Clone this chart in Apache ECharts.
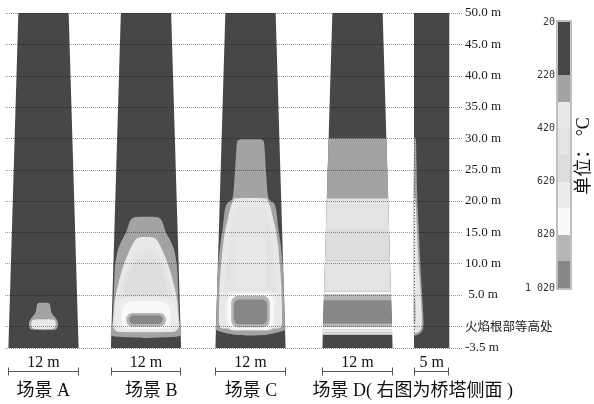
<!DOCTYPE html>
<html>
<head>
<meta charset="utf-8">
<script src="https://cdn.jsdelivr.net/npm/echarts@6/dist/echarts.min.js"></script>
<style>
  html, body { margin: 0; padding: 0; background: #fff; }
  #chart { width: 594px; height: 404px; }
</style>
</head>
<body>
<div id="chart"></div>
<script>
// ---- temperature scale (°C): lower bound of each band and its gray ----
const bandLower = [20, 120, 220, 320, 420, 520, 620, 720, 820, 920];
const bandTop = 1020;
const bandColors = ['#474747', '#474747', '#a3a3a3', '#e8e8e8', '#e3e3e3', '#dddddd', '#ececec', '#f9f9f9', '#b5b5b5', '#878787'];
const scaleTicks = [20, 220, 420, 620, 820, 1020];

// ---- height axis (m) ----
const heightTicks = [50, 45, 40, 35, 30, 25, 20, 15, 10, 5, 0, -3.5];
const heightLabels = ['50.0 m', '45.0 m', '40.0 m', '35.0 m', '30.0 m', '25.0 m', '20.0 m', '15.0 m', '10.0 m', ' 5.0 m', '火焰根部等高处', '-3.5 m'];

// ---- scenes ----
const sceneNames = ['场景 A', '场景 B', '场景 C', '场景 D( 右图为桥塔侧面 )'];
const scaleLengths = [12, 12, 12, 12, 5];

// pylon outline: [height, half width] at foot and head (front view), side view width
const towerFoot = [-3.5, 6.0];
const towerHead = [50, 4.3];
const sideWidth = 5;

// contour bands: [temperature, left half outline from top to bottom as [x m, height m]]
const contoursA = [
  [220, [[-0.85, 3.7], [-1.1, 3.5], [-1.2, 2.8], [-1.4, 2.1], [-1.9, 1.5], [-2.35, 0.9], [-2.5, 0.3], [-2.4, -0.25], [-2.0, -0.6]]],
  [320, [[-1.7, 1.05], [-2.0, 0.8], [-2.1, 0.3], [-1.95, -0.25], [-1.5, -0.45]]]
];
const contoursB = [
  [220, [[-2.0, 17.4], [-2.6, 17.0], [-2.9, 16.4], [-3.4, 15.0], [-4.2, 13.6], [-4.8, 12.2], [-5.3, 9.5], [-5.55, 4.0], [-5.7, 1.0], [-7, -0.3], [-7, -1.5], [-3.0, -1.8], [-0.5, -1.9]]],
  [320, [[-1.0, 14.2], [-1.6, 14.0], [-2.15, 13.3], [-3.0, 11.7], [-3.9, 9.5], [-4.7, 6.9], [-5.3, 4.2], [-5.6, 1.0], [-5.6, -0.2], [-5.2, -0.75], [-4.5, -0.95]]],
  [420, [[-1.4, 11.9], [-2.1, 11.4], [-2.8, 10.0], [-3.5, 8.4], [-4.2, 6.4], [-4.6, 4.5], [-4.6, 3.0]]],
  [520, [[-1.2, 10.7], [-1.9, 10.2], [-2.6, 8.9], [-3.2, 7.3], [-3.7, 5.5], [-3.8, 4.0]]],
  [620, [[-3.4, 4.7], [-4.4, 4.3], [-5.0, 3.2], [-5.2, 1.2], [-5.0, -0.2], [-4.3, -0.65]]],
  [720, [[-2.8, 3.9], [-3.7, 3.5], [-4.1, 2.6], [-4.2, 1.0], [-4.0, -0.1], [-3.4, -0.4]]]
];
const contoursC = [
  [220, [[-1.8, 29.8], [-2.2, 29.6], [-2.35, 29.0], [-2.5, 27], [-2.7, 24], [-2.95, 21], [-3.2, 20.2], [-4.0, 19.6], [-4.4, 18.5], [-4.7, 16.0], [-5.1, 13.5], [-5.5, 10], [-5.75, 5], [-7, 0.5], [-7, -0.6], [-3, -1.35], [-0.5, -1.5]]],
  [320, [[-2.6, 20.4], [-2.95, 20.1], [-3.4, 19.0], [-3.9, 17.0], [-4.2, 15.9], [-4.7, 13], [-5.0, 10], [-5.3, 6], [-5.4, 0.5], [-5.2, -0.2], [-4.8, -0.4]]],
  [420, [[-1.8, 19.0], [-2.4, 18.6], [-3.0, 17.0], [-3.5, 14.5], [-3.9, 11], [-4.3, 7.5], [-4.4, 5.5]]]
];
// rounded cells: [temperature, x0, x1, y0, y1, corner radius]
const cellsB = [[820, -3.4, 3.4, -0.1, 2.1, 1.1], [920, -2.85, 2.85, 0.35, 1.75, 0.7]];
const cellsC = [[320, -2.6, 2.6, 6.0, 14.2, 0.6], [620, -4.4, 4.4, -0.7, 5.6, 1.6], [720, -3.95, 3.95, -0.45, 5.3, 1.4], [820, -3.3, 3.3, -0.2, 4.85, 1.2], [920, -2.85, 2.85, 0.3, 4.25, 0.9]];
// horizontal layers across the whole section: [from m, to m, temperature]
const layersD = [[20.4, 30, 220], [15.5, 20.4, 420], [10.5, 15.5, 520], [5.5, 10.5, 420], [5.0, 5.5, 720], [4.05, 5.0, 820], [0.45, 4.05, 920], [-0.1, 0.45, 820], [-0.6, -0.1, 720], [-1.0, -0.6, 620], [-1.4, -1.0, 420]];
// side view: outline from the flame-side face, [temperature, [[x m, height m] ...]]
const contoursSide = [
  [220, [[0, 30.2], [0.25, 30.0], [0.35, 26], [0.45, 21], [0.65, 16], [0.85, 11], [1.1, 6], [1.3, 2], [1.35, 0], [1.15, -0.8], [0.7, -1.3], [0, -1.45]]],
  [320, [[0, 20.6], [0.2, 20.4], [0.35, 17], [0.5, 13], [0.7, 9], [0.95, 5], [1.1, 1.5], [1.05, -0.3], [0.65, -0.9], [0, -1.1]]],
  [820, [[0, 4.5], [0.2, 4.3], [0.22, 0.6], [0, 0.4]]]
];

// ---- helpers that turn the outlines into polygons ----
function bandColor(t) {
  let i = bandLower.length - 1;
  while (i > 0 && t < bandLower[i]) i--;
  return bandColors[i];
}
function halfWidth(h) {
  return towerFoot[1] + (towerHead[1] - towerFoot[1]) * (h - towerFoot[0]) / (towerHead[0] - towerFoot[0]);
}
function clampToTower(pts) {
  return pts.map(([x, y]) => { const hw = halfWidth(y); return [Math.max(-hw, Math.min(hw, x)), y]; });
}
function mirror(left) {
  return left.concat(left.slice().reverse().map(([x, y]) => [-x, y]));
}
function roundedCell([t, x0, x1, y0, y1, r]) {
  const pts = [];
  const corners = [[x1 - r, y1 - r, 0], [x0 + r, y1 - r, 90], [x0 + r, y0 + r, 180], [x1 - r, y0 + r, 270]];
  corners.forEach(([cx, cy, a0]) => {
    for (let k = 0; k <= 6; k++) {
      const a = (a0 + k * 15) * Math.PI / 180;
      pts.push([cx + r * Math.cos(a), cy + r * Math.sin(a)]);
    }
  });
  return { pts: pts, fill: bandColor(t), smooth: 0 };
}
const frontOutline = [[-towerFoot[1], towerFoot[0]], [towerFoot[1], towerFoot[0]], [towerHead[1], towerHead[0]], [-towerHead[1], towerHead[0]]];
const sideOutline = [[0, towerFoot[0]], [sideWidth, towerFoot[0]], [sideWidth, towerHead[0]], [0, towerHead[0]]];
const baseColor = bandColor(20);

function frontShapes(contours, cells) {
  const list = [{ pts: frontOutline, fill: baseColor, smooth: 0 }];
  contours.forEach(([t, left]) => list.push({ pts: clampToTower(mirror(left)), fill: bandColor(t), smooth: 0.25 }));
  (cells || []).forEach(c => list.push(roundedCell(c)));
  return list;
}
const shapesA = frontShapes(contoursA);
const shapesB = frontShapes(contoursB, cellsB);
const shapesC = frontShapes(contoursC, cellsC);
const shapesD = [{ pts: frontOutline, fill: baseColor, smooth: 0 }].concat(layersD.map(([lo, hi, t]) => ({
  pts: [[-halfWidth(lo), lo], [halfWidth(lo), lo], [halfWidth(hi), hi], [-halfWidth(hi), hi]], fill: bandColor(t), smooth: 0
})));
const shapesSide = [{ pts: sideOutline, fill: baseColor, smooth: 0 }].concat(contoursSide.map(([t, pts]) => ({ pts: pts, fill: bandColor(t), smooth: 0.25 })));

// ---- layout ----
const plotTop = 13, plotBottom = 56;
const pxPerMetre = 5.85;
const frontCentres = [43.5, 146, 250.5, 357.5];
const sideLeft = 414, sideRightPx = 449.3;
const serif = "'Liberation Serif', 'Noto Sans CJK SC', serif";
const cjk = "'Noto Sans CJK SC', sans-serif";

const grids = [{ left: 5, top: plotTop, width: 458, bottom: plotBottom }];
const xAxes = [{ type: 'value', min: 0, max: 1, show: false, gridIndex: 0 }];
const yAxes = [{
  type: 'value', min: -3.5, max: 50, gridIndex: 0, position: 'right', z: 5,
  axisLine: { show: false }, axisTick: { show: false }, splitLine: { show: false },
  axisLabel: {
    customValues: heightTicks, margin: 2, align: 'left',
    fontFamily: serif, fontSize: 13, color: '#1a1a1a',
    formatter: v => { const i = heightTicks.indexOf(v); return i === 10 ? '{c|' + heightLabels[i] + '}' : heightLabels[i]; },
    rich: { c: { fontFamily: cjk, fontSize: 12.5, color: '#1a1a1a' } }
  }
}];
frontCentres.forEach((c, i) => {
  grids.push({ left: c - 7 * pxPerMetre, width: 14 * pxPerMetre, top: plotTop, bottom: plotBottom });
  xAxes.push({ type: 'value', min: -7, max: 7, show: false, gridIndex: i + 1 });
  yAxes.push({ type: 'value', min: -3.5, max: 50, show: false, gridIndex: i + 1 });
});
grids.push({ left: sideLeft, width: sideRightPx - sideLeft, top: plotTop, bottom: plotBottom });
xAxes.push({ type: 'value', min: 0, max: sideWidth, show: false, gridIndex: 5 });
yAxes.push({ type: 'value', min: -3.5, max: 50, show: false, gridIndex: 5 });
// colour bar
grids.push({ left: 558, width: 12, top: 22, height: 266 });
xAxes.push({ type: 'value', min: 0, max: 1, show: false, gridIndex: 6 });
yAxes.push({
  type: 'value', min: 20, max: 1020, inverse: true, gridIndex: 6, position: 'left',
  axisLine: { show: false }, axisTick: { show: false }, splitLine: { show: false },
  axisLabel: {
    customValues: scaleTicks, margin: 3, fontFamily: "'DejaVu Sans Mono', monospace", fontSize: 10, color: '#333',
    formatter: v => String(v).replace(/\B(?=(\d{3})+(?!\d))/g, ' ')
  }
});

function shapeSeries(gi, shapes) {
  return {
    type: 'custom', xAxisIndex: gi, yAxisIndex: gi, z: 2, silent: true,
    data: shapes.map((s, i) => [i]),
    renderItem: (params, api) => {
      const s = shapes[params.dataIndex];
      return { type: 'polygon', shape: { points: s.pts.map(p => api.coord(p)), smooth: s.smooth }, style: { fill: s.fill } };
    }
  };
}

// scale bar + scene caption under each view
const barHeight = -7.17, barTextHeight = -5.9, captionHeight = -10.36;
function annotationSeries(gi, len, x0, caption, captionX) {
  return {
    type: 'custom', xAxisIndex: gi, yAxisIndex: gi, z: 4, silent: true, clip: false,
    data: [[0]],
    renderItem: (params, api) => {
      const a = api.coord([x0, barHeight]);
      const b = api.coord([x0 + len, barHeight]);
      const y = Math.round(a[1]) + 0.5;
      const xa = Math.round(a[0]) + 0.5, xb = Math.round(b[0]) - 0.5;
      const t = api.coord([x0 + len / 2, barTextHeight]);
      const children = [
        { type: 'line', shape: { x1: xa, y1: y, x2: xb, y2: y }, style: { stroke: '#555', lineWidth: 1 } },
        { type: 'line', shape: { x1: xa, y1: y - 4, x2: xa, y2: y + 4 }, style: { stroke: '#555', lineWidth: 1 } },
        { type: 'line', shape: { x1: xb, y1: y - 4, x2: xb, y2: y + 4 }, style: { stroke: '#555', lineWidth: 1 } },
        { type: 'text', x: t[0], y: t[1], style: { text: len + ' m', font: '16px ' + serif, fill: '#111', align: 'center', verticalAlign: 'middle' } }
      ];
      if (caption) {
        const c = api.coord([captionX, captionHeight]);
        children.push({ type: 'text', x: c[0], y: c[1], style: { text: caption, font: '18px ' + serif, fill: '#111', align: 'left', verticalAlign: 'middle' } });
      }
      return { type: 'group', children: children };
    }
  };
}
const captionLeft = [-4.6, -3.6, -4.4, -7.7];

// dotted height grid drawn above the sections
const gridLineSeries = {
  type: 'custom', xAxisIndex: 0, yAxisIndex: 0, z: 6, silent: true,
  data: heightTicks.map(v => [v]),
  renderItem: (params, api) => {
    const v = heightTicks[params.dataIndex];
    const a = api.coord([0, v]), b = api.coord([1, v]);
    const y = Math.round(a[1]) + 0.5;
    return { type: 'line', shape: { x1: a[0], y1: y, x2: b[0], y2: y }, style: { stroke: 'rgba(0,0,0,0.42)', lineWidth: 1, lineDash: [1, 1] } };
  }
};

// face line on the side view
const sideEdgeSeries = {
  type: 'custom', xAxisIndex: 5, yAxisIndex: 5, z: 3, silent: true,
  data: [[0]],
  renderItem: (params, api) => {
    const a = api.coord([0, contoursSide[0][1][0][1]]);
    const b = api.coord([0, contoursSide[0][1][contoursSide[0][1].length - 1][1]]);
    const x = Math.round(a[0]) + 0.5;
    return { type: 'line', shape: { x1: x, y1: a[1], x2: x, y2: b[1] }, style: { stroke: '#555', lineWidth: 1, lineDash: [1, 2] } };
  }
};

// colour bar cells
const colourBarSeries = {
  type: 'custom', xAxisIndex: 6, yAxisIndex: 6, z: 2, silent: true,
  data: bandLower.map((t, i) => [i]),
  renderItem: (params, api) => {
    const i = params.dataIndex;
    const lo = bandLower[i], hi = i + 1 < bandLower.length ? bandLower[i + 1] : bandTop;
    const a = api.coord([0, lo]), b = api.coord([1, hi]);
    const y0 = Math.round(a[1]), y1 = Math.round(b[1]);
    return { type: 'rect', shape: { x: Math.round(a[0]), y: y0, width: Math.round(b[0] - a[0]), height: y1 - y0 }, style: { fill: bandColors[i] } };
  }
};
const colourBarFrame = {
  type: 'custom', xAxisIndex: 6, yAxisIndex: 6, z: 3, silent: true,
  data: [[0]],
  renderItem: (params, api) => {
    const a = api.coord([0, 20]), b = api.coord([1, bandTop]);
    return { type: 'rect', shape: { x: Math.round(a[0]) - 1, y: Math.round(a[1]) - 1, width: Math.round(b[0] - a[0]) + 2, height: Math.round(b[1] - a[1]) + 2 }, style: { fill: 'none', stroke: '#aaa', lineWidth: 1.5 } };
  }
};

const series = [
  shapeSeries(1, shapesA), shapeSeries(2, shapesB), shapeSeries(3, shapesC), shapeSeries(4, shapesD), shapeSeries(5, shapesSide),
  sideEdgeSeries, gridLineSeries, colourBarSeries, colourBarFrame
];
[1, 2, 3, 4].forEach((gi, i) => series.push(annotationSeries(gi, scaleLengths[i], -scaleLengths[i] / 2, sceneNames[i], captionLeft[i])));
series.push(annotationSeries(5, scaleLengths[4], 0, null, 0));

const chart = echarts.init(document.getElementById('chart'), null, { renderer: 'canvas' });
chart.setOption({
  animation: false,
  backgroundColor: '#fff',
  grid: grids,
  xAxis: xAxes,
  yAxis: yAxes,
  series: series,
  graphic: [{
    type: 'text', x: 584, y: 156, rotation: Math.PI / 2,
    style: { text: '单位： °C', font: '18px ' + serif, fill: '#111', align: 'center', verticalAlign: 'middle' }
  }]
});
</script>
</body>
</html>
